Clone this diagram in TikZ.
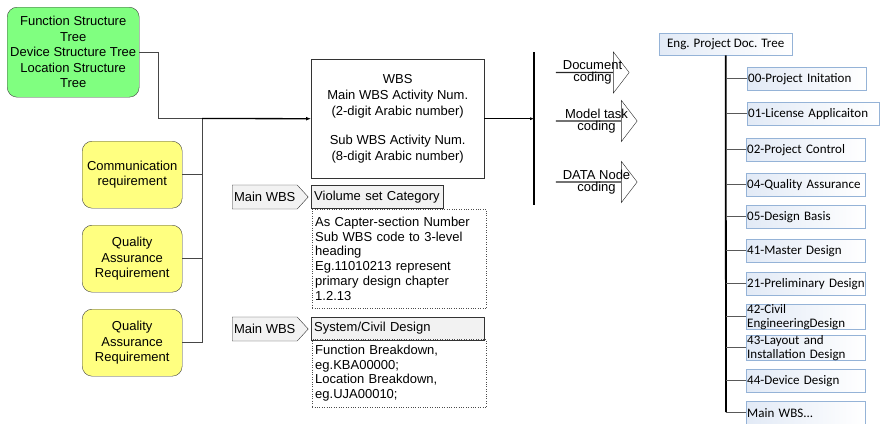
\documentclass[tikz,border=0pt]{standalone}
\usepackage{fontspec}
\setmainfont{Liberation Sans}
\newfontfamily\treefont{Carlito}
\usetikzlibrary{arrows.meta, positioning, shapes.arrows, shapes.symbols}
\definecolor{ReqGreen}{RGB}{128,255,128}
\definecolor{ReqYellow}{RGB}{255,255,128}
\definecolor{TagFill}{RGB}{242,242,242}
\definecolor{TreeRule}{RGB}{149,179,215}
\definecolor{TreeFill}{RGB}{226,234,246}
\definecolor{LinkGray}{RGB}{70,70,70}

\begin{document}
\begin{tikzpicture}[
  x=1pt, y=-1pt,
  every node/.style={font=\fontsize{13}{15.5}\selectfont, inner sep=1pt},
  greenreq/.style={draw=black!75, fill=ReqGreen, rounded corners=10pt, align=center,
                   anchor=north west, minimum width=132pt, minimum height=90pt},
  yellowreq/.style={draw=black!75, fill=ReqYellow, rounded corners=10pt, align=center,
                    anchor=north west, minimum width=100pt, minimum height=67pt},
  wbsbox/.style={draw=black!80, align=center, anchor=north west,
                 minimum width=173pt, minimum height=119pt, font=\fontsize{13}{16}\selectfont},
  tag/.style={draw=black!80, fill=TagFill, signal, signal to=east, signal pointer angle=95,
              minimum width=76pt, minimum height=24pt, anchor=west},
  catbox/.style={draw=black!80, fill=TagFill, minimum height=23pt, anchor=west,
                 inner xsep=3pt, text width=#1, align=left},
  notebox/.style={draw=black!70, dotted, anchor=north west, align=left,
                  text width=168pt, inner xsep=3pt, font=\fontsize{13}{14.8}\selectfont},
  codearrow/.style={draw=black!85, single arrow, single arrow head extend=10pt,
                    single arrow tip angle=105, minimum width=41pt, inner sep=0pt},
  codetext/.style={align=center, font=\fontsize{13}{11.8}\selectfont},
  docroot/.style={draw=TreeRule, left color=TreeFill, right color=white, anchor=north west,
                  minimum width=133pt, minimum height=22pt,
                  font=\treefont\fontsize{13}{15.5}\selectfont},
  docitem/.style={draw=TreeRule, left color=TreeFill, right color=white, anchor=north west,
                  minimum height=23pt, text width=#1, align=left, inner xsep=1pt, inner ysep=0pt,
                  font=\treefont\fontsize{13}{14}\selectfont},
  docitem/.default=117pt,
  link/.style={draw=LinkGray, line width=0.8pt},
  branch/.style={draw=black!65, line width=0.9pt},
  feed/.style={-{Latex[length=5pt,width=4pt]}, line width=1.3pt},
  feedout/.style={-{Latex[length=4pt,width=3pt]}, line width=0.7pt}
]
\useasboundingbox (0,0) rectangle (880,423);

% requirement sources
\node[greenreq] (trees) at (7,7) {Function Structure\\Tree\\Device Structure Tree\\Location Structure\\Tree};
\node[yellowreq] (comm) at (82,141) {Communication\\requirement};
\node[yellowreq] (qa1)  at (82,225) {Quality\\Assurance\\Requirement};
\node[yellowreq] (qa2)  at (82,309) {Quality\\Assurance\\Requirement};

% WBS block
\node[wbsbox] (wbs) at (311,59) {WBS\\Main WBS Activity Num.\\(2-digit Arabic number)\\[13pt]Sub WBS Activity Num.\\(8-digit Arabic number)};

\node[tag] (tag1) at (232,197) {Main WBS};
\node[catbox=126pt] (cat1) at (311,197) {Violume set Category};
\node[notebox, minimum height=99pt] (note1) at (312,209) {As Capter-section Number\\Sub WBS code to 3-level\\heading\\Eg.11010213 represent\\primary design chapter\\1.2.13};

\node[tag] (tag2) at (232,329) {Main WBS};
\node[catbox=167pt] (cat2) at (311,328.5) {System/Civil Design};
\node[notebox, minimum height=68pt] (note2) at (312,339) {Function Breakdown,\\eg.KBA00000;\\Location Breakdown,\\eg.UJA00010;};

% coding arrows
\coordinate (busTop) at (534,52);
\coordinate (busBot) at (534,205);
\node[codearrow, minimum height=73pt] (docArr) at (592.5,72.5) {};
\node[codearrow, minimum height=81pt] (modArr) at (596.5,121) {};
\node[codearrow, minimum height=81pt] (datArr) at (596.5,182) {};
\node[codetext] (docTxt) at (docArr.center) {Document\\coding};
\node[codetext] (modTxt) at ([yshift=-0.5pt]modArr.center) {Model task\\coding};
\node[codetext] (datTxt) at ([yshift=-0.5pt]datArr.center) {DATA Node\\coding};

% document tree
\node[docroot] (root) at (659,33) {Eng. Project Doc. Tree};
\node[docitem] (d00) at (747,67)  {00-Project Initation};
\node[docitem=130pt] (d01) at (747,102) {01-License Applicaiton};
\node[docitem] (d02) at (746,138) {02-Project Control};
\node[docitem] (d04) at (746,173) {04-Quality Assurance};
\node[docitem] (d05) at (746,205) {05-Design Basis};
\node[docitem] (d41) at (746,239) {41-Master Design};
\node[docitem] (d21) at (746,272) {\mbox{21-Preliminary Design}};
\node[docitem] (d42) at (746,304) {42-Civil\\EngineeringDesign};
\node[docitem] (d43) at (746,335) {43-Layout and\\Installation Design};
\node[docitem] (d44) at (746,369) {44-Device Design};
\node[docitem] (dmain) at (746,401) {Main WBS...};
\coordinate (spineEnd) at (726,412);

% connectors
\coordinate (hub) at (202,118.5);
\draw[link] (trees.east) -- ++(19,0) |- (hub);
\draw[link] (hub) -- (hub |- qa2.east);
\draw[link] (comm.east) -- (comm.east -| hub);
\draw[link] (qa1.east) -- (qa1.east -| hub);
\draw[link] (qa2.east) -- (qa2.east -| hub);
\draw[feed] (hub) -- (wbs.west);
\draw[feedout] (wbs.east) -- (wbs.east -| busTop);
\draw[line width=2.6pt] (busTop) -- (busBot);

\draw[line width=1.8pt] (root.south) -- (spineEnd);
\foreach \d in {d00,d01,d02,d04,d05,d41,d21,d42,d43,d44,dmain}
  \draw[branch] (\d.west) -- (\d.west -| root.south);
\end{tikzpicture}
\end{document}
